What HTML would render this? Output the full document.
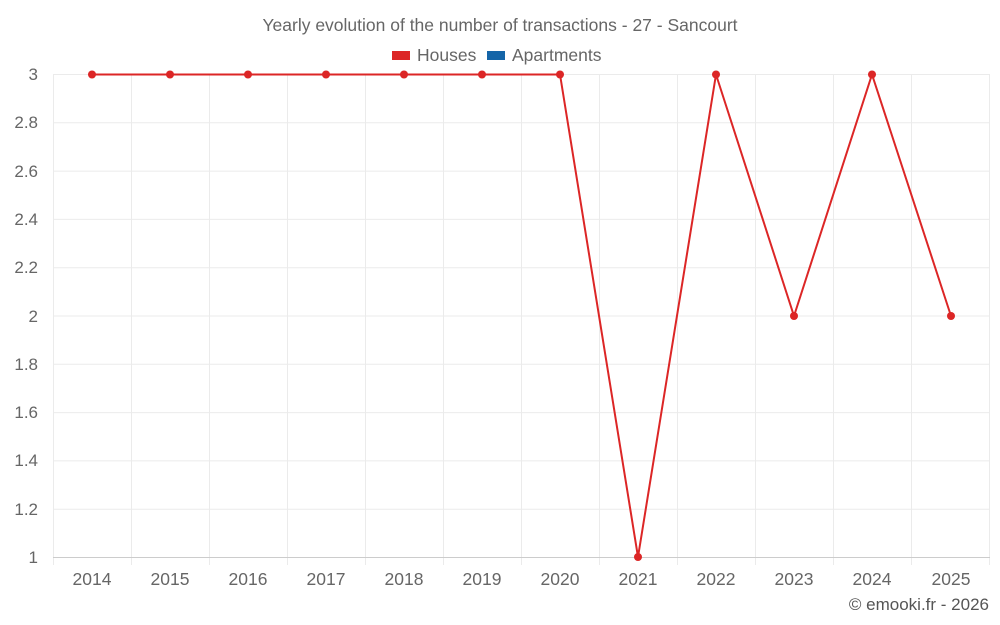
<!DOCTYPE html>
<html><head><meta charset="utf-8"><style>
body{margin:0;background:#fff;}
svg{display:block;font-family:"Liberation Sans",sans-serif;}
</style></head><body>
<svg width="1000" height="625" xmlns="http://www.w3.org/2000/svg">
<rect width="1000" height="625" fill="#fff"/>
<text x="500" y="31" text-anchor="middle" font-size="17.5" fill="#666">Yearly evolution of the number of transactions - 27 - Sancourt</text>
<rect x="392" y="51" width="18" height="9" fill="#dc2626"/>
<text x="417" y="61" font-size="17.5" fill="#666">Houses</text>
<rect x="487" y="51" width="18" height="9" fill="#1565a8"/>
<text x="512" y="61" font-size="17.5" fill="#666">Apartments</text>
<g stroke="#ebebeb" stroke-width="1">
<line x1="53" y1="74.5" x2="990" y2="74.5"/>
<line x1="53" y1="122.8" x2="990" y2="122.8"/>
<line x1="53" y1="171.1" x2="990" y2="171.1"/>
<line x1="53" y1="219.4" x2="990" y2="219.4"/>
<line x1="53" y1="267.7" x2="990" y2="267.7"/>
<line x1="53" y1="316" x2="990" y2="316"/>
<line x1="53" y1="364.3" x2="990" y2="364.3"/>
<line x1="53" y1="412.6" x2="990" y2="412.6"/>
<line x1="53" y1="460.9" x2="990" y2="460.9"/>
<line x1="53" y1="509.2" x2="990" y2="509.2"/>
<line x1="53.5" y1="74" x2="53.5" y2="565"/>
<line x1="131.5" y1="74" x2="131.5" y2="565"/>
<line x1="209.5" y1="74" x2="209.5" y2="565"/>
<line x1="287.5" y1="74" x2="287.5" y2="565"/>
<line x1="365.5" y1="74" x2="365.5" y2="565"/>
<line x1="443.5" y1="74" x2="443.5" y2="565"/>
<line x1="521.5" y1="74" x2="521.5" y2="565"/>
<line x1="599.5" y1="74" x2="599.5" y2="565"/>
<line x1="677.5" y1="74" x2="677.5" y2="565"/>
<line x1="755.5" y1="74" x2="755.5" y2="565"/>
<line x1="833.5" y1="74" x2="833.5" y2="565"/>
<line x1="911.5" y1="74" x2="911.5" y2="565"/>
<line x1="989.5" y1="74" x2="989.5" y2="565"/>
</g>
<line x1="53" y1="557.5" x2="990" y2="557.5" stroke="#ccc"/>
<g font-size="17" fill="#666" text-anchor="end">
<text x="38" y="80">3</text><text x="38" y="128">2.8</text><text x="38" y="177">2.6</text>
<text x="38" y="225">2.4</text><text x="38" y="273">2.2</text><text x="38" y="322">2</text>
<text x="38" y="370">1.8</text><text x="38" y="418">1.6</text><text x="38" y="466">1.4</text>
<text x="38" y="515">1.2</text><text x="38" y="563">1</text>
</g>
<g font-size="17.5" fill="#666" text-anchor="middle">
<text x="92" y="585">2014</text><text x="170" y="585">2015</text><text x="248" y="585">2016</text>
<text x="326" y="585">2017</text><text x="404" y="585">2018</text><text x="482" y="585">2019</text>
<text x="560" y="585">2020</text><text x="638" y="585">2021</text><text x="716" y="585">2022</text>
<text x="794" y="585">2023</text><text x="872" y="585">2024</text><text x="951" y="585">2025</text>
</g>
<polyline fill="none" stroke="#dc2626" stroke-width="2" points="92,74.5 170,74.5 248,74.5 326,74.5 404,74.5 482,74.5 560,74.5 638,557 716,74.5 794,316 872,74.5 951,316"/>
<g fill="#dc2626">
<circle cx="92" cy="74.5" r="4"/><circle cx="170" cy="74.5" r="4"/><circle cx="248" cy="74.5" r="4"/>
<circle cx="326" cy="74.5" r="4"/><circle cx="404" cy="74.5" r="4"/><circle cx="482" cy="74.5" r="4"/>
<circle cx="560" cy="74.5" r="4"/><circle cx="638" cy="557" r="4"/><circle cx="716" cy="74.5" r="4"/>
<circle cx="794" cy="316" r="4"/><circle cx="872" cy="74.5" r="4"/><circle cx="951" cy="316" r="4"/>
</g>
<text x="989" y="610" text-anchor="end" font-size="17" fill="#555">© emooki.fr - 2026</text>
</svg>
</body></html>
